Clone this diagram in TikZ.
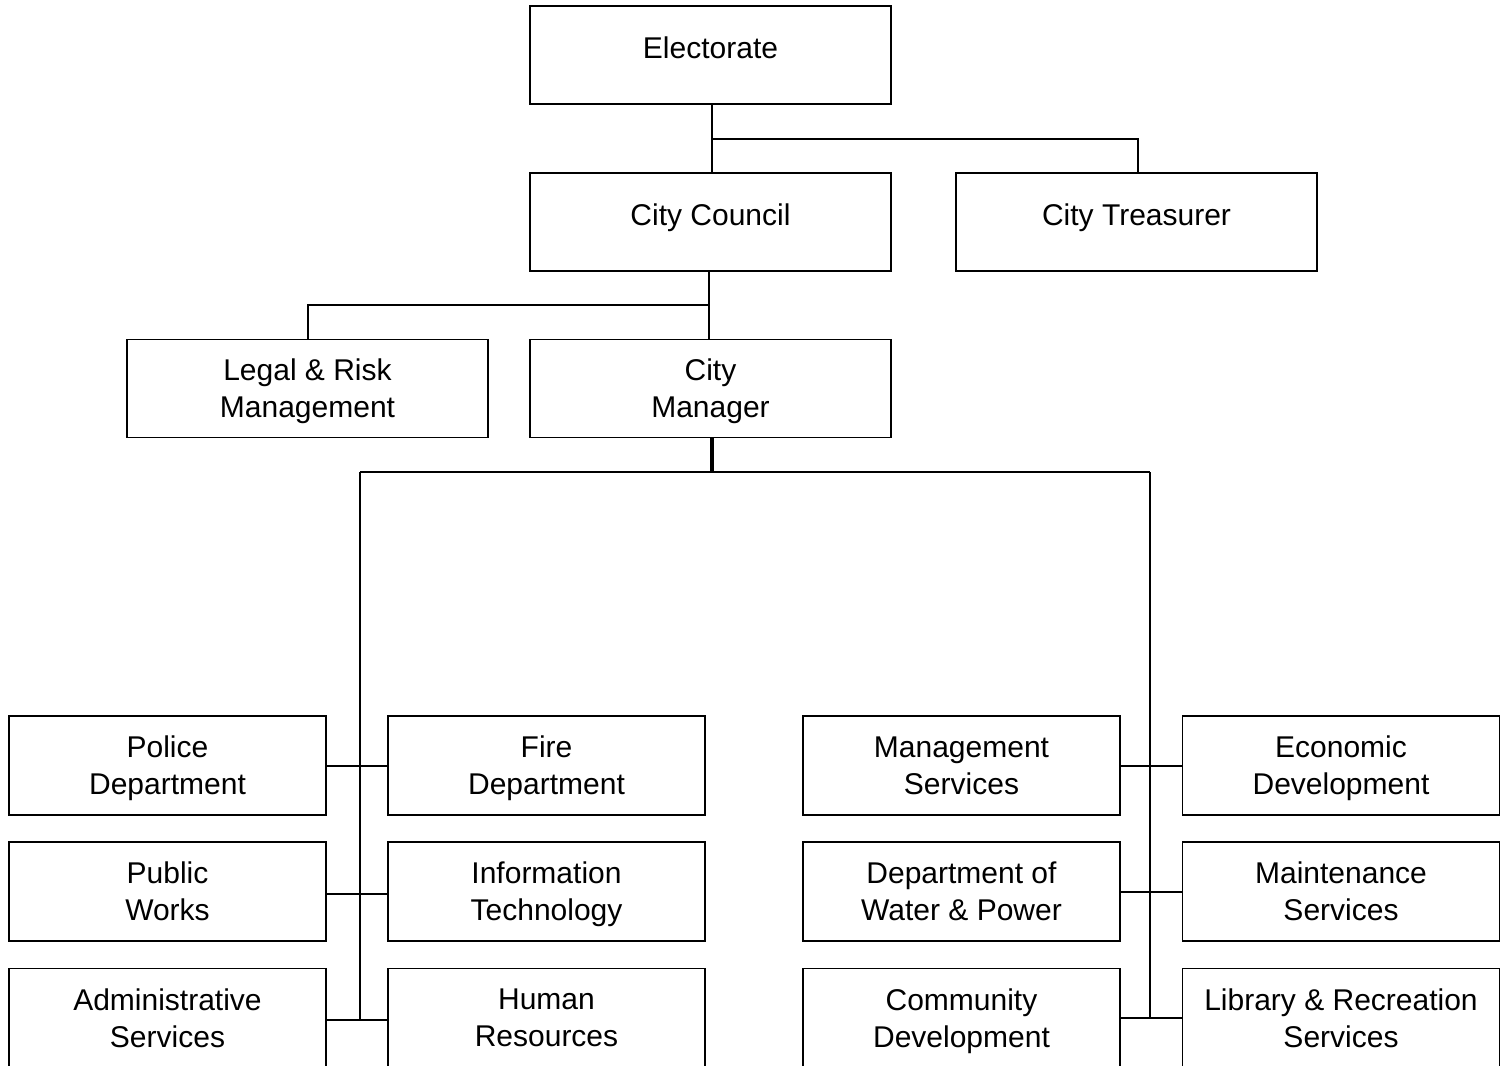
\documentclass[tikz,border=0pt]{standalone}
\usepackage{fontspec}
\setmainfont{Liberation Sans}
\usetikzlibrary{calc}
\begin{document}
\begin{tikzpicture}[x=0.5pt,y=-0.5pt,
  box/.style={draw, line width=0.95pt, rectangle, inner sep=0pt, outer sep=0pt, align=center,
    text depth=0pt, font=\fontsize{15}{18.5}\selectfont},
  topbox/.style={box, minimum width=180.5pt, minimum height=49pt},
  single/.style={text depth=7.5pt},
  botbox/.style={box, minimum width=158.5pt, minimum height=49.5pt},
  conn/.style={line width=1pt},
  thickconn/.style={line width=1.7pt}]
\useasboundingbox (0,0) rectangle (1506,1066);
% top levels
\node[topbox, single] (elec) at (710.5,55) {Electorate};
\node[topbox, single] (council) at (710.5,222) {City Council};
\node[topbox, single] (treas) at (1136.5,222) {City Treasurer};
\node[topbox] (legal) at (307.5,388.5) {Legal \& Risk\\Management};
\node[topbox] (mgr) at (710.5,388.5) {City\\Manager};
% departments, left group
\node[botbox] (police) at (167.5,765.5) {Police\\Department};
\node[botbox] (fire) at (546.5,765.5) {Fire\\Department};
\node[botbox] (pw) at (167.5,891.5) {Public\\Works};
\node[botbox] (it) at (546.5,891.5) {Information\\Technology};
\node[botbox] (admin) at (167.5,1018) {Administrative\\Services};
\node[botbox] (hr) at (546.5,1018) {Human\\Resources};
% departments, right group
\node[botbox] (mgmt) at (961.5,765.5) {Management\\Services};
\node[botbox] (econ) at (1341,765.5) {Economic\\Development};
\node[botbox] (water) at (961.5,891.5) {Department of\\Water \& Power};
\node[botbox] (maint) at (1341,891.5) {Maintenance\\Services};
\node[botbox] (comm) at (961.5,1018) {Community\\Development};
\node[botbox] (lib) at (1341,1018) {Library \& Recreation\\Services};
% connectors top
\coordinate (e1) at ([xshift=0.75pt]elec.south);
\coordinate (j1) at ($(elec.south)!0.5!(council.north)$);
\draw[conn] (e1) -- (e1 |- council.north);
\draw[conn] (e1 |- j1) -| ([xshift=0.75pt]treas.north);
\coordinate (c1) at ([xshift=-0.75pt]council.south);
\coordinate (j2) at ($(council.south)!0.5!(mgr.north)$);
\draw[conn] (c1) -- (c1 |- mgr.north);
\draw[conn] (c1 |- j2) -| (legal.north);
% manager bus
\coordinate (lt) at (360,472);
\coordinate (rt) at (1150,472);
\coordinate (m1) at ([xshift=0.75pt]mgr.south);
\draw[thickconn] (m1) -- (m1 |- lt);
\draw[conn] (lt) -- (rt);
\coordinate (lb) at (360,1020.5);
\coordinate (rb) at (1150,1018.5);
\draw[conn] (lt) -- (lb);
\draw[conn] (rt) -- (rb);
% horizontal links
\draw[conn] (police.east) -- (fire.west);
\draw[conn] ([yshift=-1.2pt]pw.east) -- ([yshift=-1.2pt]it.west);
\draw[conn] ([yshift=-1.2pt]admin.east) -- ([yshift=-1.2pt]hr.west);
\draw[conn] (mgmt.east) -- (econ.west);
\draw[conn] ([yshift=-0.4pt]water.east) -- ([yshift=-0.4pt]maint.west);
\draw[conn] (comm.east) -- (lib.west);
\end{tikzpicture}
\end{document}
